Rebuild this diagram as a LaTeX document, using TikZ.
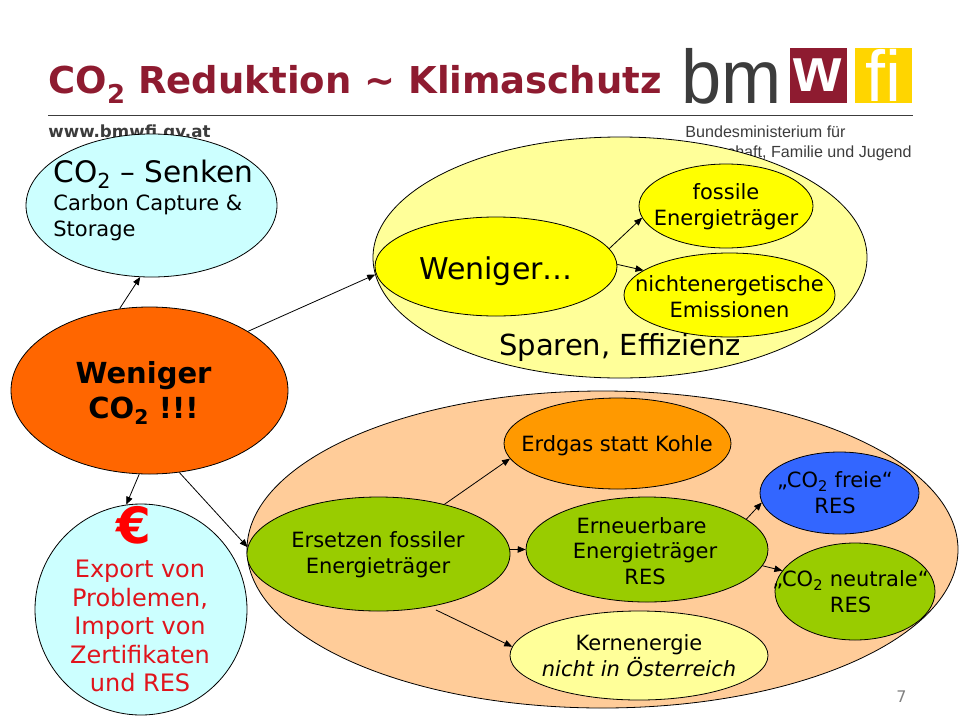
\documentclass[tikz,border=0pt]{standalone}
\usepackage{fontspec}
\setmainfont{DejaVu Sans}
\newfontfamily\logofont{Liberation Sans}
\usetikzlibrary{arrows,shapes,positioning}
\definecolor{titlered}{HTML}{8E1B30}
\definecolor{logogold}{HTML}{FFD500}
\definecolor{logogray}{HTML}{3C3C3C}
\definecolor{lightcyan}{HTML}{CCFFFF}
\definecolor{paleyellow}{HTML}{FFFF99}
\definecolor{fullyellow}{HTML}{FFFF00}
\definecolor{mainorange}{HTML}{FF6600}
\definecolor{peachfill}{HTML}{FFCC99}
\definecolor{gasorange}{HTML}{FF9900}
\definecolor{leafgreen}{HTML}{99CC00}
\definecolor{resblue}{HTML}{3366FF}
\definecolor{exportred}{HTML}{E0141C}
\definecolor{eurored}{HTML}{FF0000}
\newcommand{\cotwo}{CO\textsubscript{2}}
\newcommand{\fsize}[2]{\fontsize{#1}{#2}\selectfont}

\begin{document}
\begin{tikzpicture}[x=1pt,y=-1pt,line width=0.8pt,>=triangle 45]
    \tikzstyle{oval}=[ellipse, draw, inner sep=0pt]
    \tikzstyle{txt}=[inner sep=0pt, align=center]
    \tikzstyle{logobox}=[inner sep=0pt, minimum width=57pt, minimum height=55pt, text=white]

    \useasboundingbox (0,0) rectangle (960,720);

    % header
    \node[inner sep=0pt, anchor=base west, font=\fsize{37}{44}\bfseries, text=titlered] (title) at (48,93) {\cotwo{} Reduktion \textasciitilde{} Klimaschutz};
    \node[inner sep=0pt, anchor=base west, font=\fsize{16.7}{20}\bfseries, text=logogray] (www) at (48,137) {www.bmwfi.gv.at};
    \coordinate (ruleL) at (48,115);
    \coordinate (ruleR) at (913,115);
    \draw[logogray] (ruleL) -- (ruleR);

    % logo
    \node[inner sep=0pt, anchor=base west, font=\logofont\fsize{76}{80}, text=logogray, xscale=0.95] (bm) at (681,103) {bm};
    \node[logobox, fill=titlered, font=\logofont\fsize{62}{66}\bfseries] (w) at (818,75.5) {w};
    \node[logobox, fill=logogold, font=\logofont\fsize{72}{76}] (fi) at (883.5,75.5) {fi};
    \node[inner sep=0pt, anchor=base west, font=\logofont\fsize{16.1}{20}, text=logogray] (bmin) at (685,137) {Bundesministerium für};
    \node[inner sep=0pt, anchor=base east, font=\logofont\fsize{16.1}{20}, text=logogray] (wfj) at (912,157) {Wissenschaft, Familie und Jugend};

    % ovals
    \node[oval, fill=lightcyan, minimum width=251pt, minimum height=143pt] (senken) at (151.5,205.5) {};
    \node[oval, fill=paleyellow, minimum width=494pt, minimum height=241pt] (sparen) at (620,257.5) {};
    \node[oval, fill=fullyellow, minimum width=242pt, minimum height=99pt] (weniger) at (496,266.5) {};
    \node[oval, fill=fullyellow, minimum width=174pt, minimum height=84pt] (fossile) at (726,206) {};
    \node[oval, fill=fullyellow, minimum width=211pt, minimum height=84pt] (nichten) at (729.5,295) {};
    \node[oval, fill=mainorange, minimum width=277pt, minimum height=167pt] (main) at (149.5,390.5) {};
    \node[oval, fill=peachfill, minimum width=711pt, minimum height=317pt] (peach) at (602.5,549.5) {};
    \node[oval, fill=gasorange, minimum width=227pt, minimum height=91pt] (erdgas) at (617.5,443.5) {};
    \node[oval, fill=leafgreen, minimum width=263pt, minimum height=114pt] (ersetzen) at (378.5,554) {};
    \node[oval, fill=leafgreen, minimum width=242pt, minimum height=105pt] (erneu) at (647,549.5) {};
    \node[oval, fill=resblue, minimum width=159pt, minimum height=82pt] (freie) at (839.5,493) {};
    \node[oval, fill=leafgreen, minimum width=160pt, minimum height=97pt] (neutral) at (855,591.5) {};
    \node[oval, fill=paleyellow, minimum width=258pt, minimum height=89pt] (kern) at (639,655.5) {};
    \node[oval, fill=lightcyan, minimum width=212pt, minimum height=211pt] (export) at (141,609.5) {};

    % texts
    \node[txt, anchor=base west, font=\fsize{29.6}{32}] (senkentxt) at (53,182) {\cotwo{} – Senken};
    \node[txt, align=left, anchor=base west, font=\fsize{21}{26}] (capturetxt) at (53,210) {Carbon Capture \&};
    \node[txt, align=left, anchor=base west, font=\fsize{21}{26}] (storagetxt) at (53,236) {Storage};
    \node[txt, anchor=base, font=\fsize{30}{36}] (wenigertxt) at (496,279) {Weniger…};
    \node[txt, anchor=base, font=\fsize{29}{32}] (sparentxt) at (620,355) {Sparen, Effizienz};
    \node[txt, font=\fsize{21}{26}] (fossiletxt) at (726,207) {fossile\\Energieträger};
    \node[txt, font=\fsize{21}{26}] (nichtentxt) at (729.5,297) {nichtenergetische\\Emissionen};
    \node[txt, font=\fsize{29}{35}\bfseries] (maintxt) at (143.5,393) {Weniger\\\cotwo{} !!!};
    \node[txt, anchor=base, font=\fsize{21}{26}] (erdgastxt) at (617,451) {Erdgas statt Kohle};
    \node[txt, font=\fsize{21}{26}] (ersetzentxt) at (378,555) {Ersetzen fossiler\\Energieträger};
    \node[txt, font=\fsize{21}{25.5}] (erneutxt) at (645,551) {Erneuerbare\hspace*{7pt}\\Energieträger\\RES};
    \node[txt, font=\fsize{21}{26}] (freietxt) at (835,493) {„\cotwo{} freie“\\RES};
    \node[txt, font=\fsize{21}{26}] (neutraltxt) at (850.5,592) {„\cotwo{} neutrale“\\RES};
    \node[txt, font=\fsize{21}{26}] (kerntxt) at (639,656) {Kernenergie\\\itshape nicht in Österreich};
    \node[txt, anchor=base, font=\fsize{50}{54}\bfseries, text=eurored] (euro) at (134,543) {€};
    \node[txt, font=\fsize{24}{28.5}, text=exportred] (exporttxt) at (140,626) {Export von\\Problemen,\\Import von\\Zertifikaten\\und RES};
    \node[inner sep=0pt, anchor=base, font=\fsize{16}{20}, text=gray] (page) at (901.5,702) {7};

    % connectors
    \draw[->] (main.110.7) -- (senken.261.8);
    \draw[->] (main.31.4) -- (sparen.184.7);
    \draw[->] (main.263.5) -- (export.98);
    \draw[->] (main.290) -- (ersetzen.177.4);
    \draw[->] (weniger.9.7) -- (fossile.188.7);
    \draw[->] (weniger.1.2) -- (nichten.164.4);
    \draw[->] (ersetzen.37.9) -- (erdgas.188.2);
    \draw[->] (ersetzen.2.2) -- (erneu.180);
    \draw[->,shorten <=7pt] (ersetzen.314.7) -- (kern.176.6);
    \draw[->] (erneu.17.8) -- (freie.187.9);
    \draw[->] (erneu.352.3) -- (neutral.164.8);

\end{tikzpicture}
\end{document}
